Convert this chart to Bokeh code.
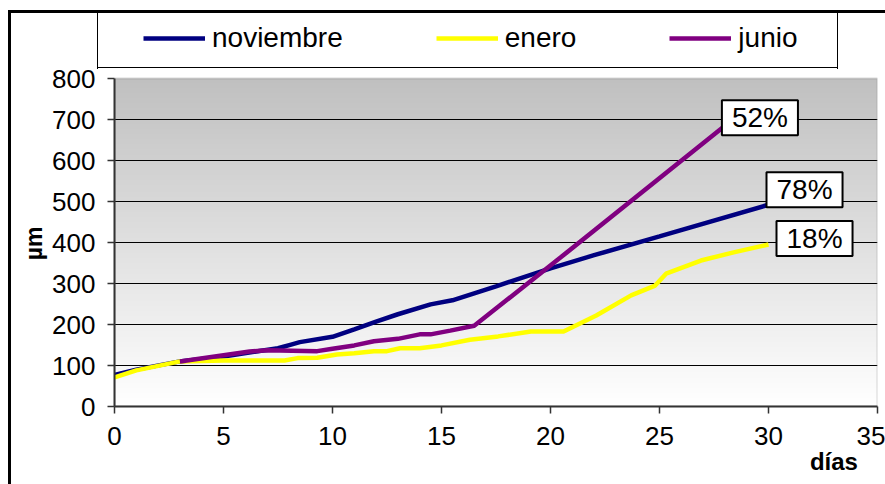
import numpy as np
from bokeh.plotting import figure
from bokeh.models import (Range1d, Legend, LegendItem, Label, FixedTicker, LinearAxis,
                          BoxAnnotation)
from bokeh.embed import file_html
from bokeh.resources import INLINE

# ---- data ----
dias_nov = [0, 1, 3, 5, 6.5, 7.5, 8.1, 8.5, 10, 11, 12, 13, 14.5, 15.5, 17.5, 20, 22, 25, 30]
um_nov = [77, 90, 110, 122, 134, 142, 151, 157, 170, 188, 207, 225, 249, 259, 293, 337, 369, 415, 492]

dias_ene = [0, 1, 3, 5, 7.8, 8.4, 9.3, 10.2, 11, 11.9, 12.5, 13.1, 14, 15, 16.3, 17.6, 19.1,
            20.6, 22.1, 23.7, 24.8, 25.3, 26.9, 28.4, 30]
um_ene = [71, 88, 110, 112, 112, 118, 119, 127, 130, 135, 135, 142, 142, 149, 163, 171, 183,
          183, 222, 271, 295, 324, 356, 376, 395]

dias_jun = [3, 6.2, 7, 9.3, 10, 11, 11.9, 13, 14, 14.5, 15.4, 16.5, 20.5, 28]
um_jun = [110, 134, 137, 135, 141, 149, 159, 165, 176, 176, 185, 197, 365, 685]

series_names = ["noviembre", "enero", "junio"]
end_labels = ["78%", "18%", "52%"]
x_ticks = [0, 5, 10, 15, 20, 25, 30, 35]
y_ticks = [0, 100, 200, 300, 400, 500, 600, 700, 800]
x_title = "días"
y_title = "µm"
x_title_pos = 33     # x value under which the x title sits
y_title_pos = 398    # y value beside which the y title sits

FONT = "Liberation Sans"
Y_MAX = 800
Y_TOP = Y_MAX * 395 / 328   # headroom above the plot area for the legend

p = figure(frame_width=763, frame_height=395, output_backend="svg", toolbar_location=None,
           x_range=Range1d(0, 35), y_range=Range1d(0, Y_TOP),
           min_border_left=114, min_border_right=8, min_border_top=11, min_border_bottom=78)
p.background_fill_alpha = 0
p.border_fill_alpha = 0
p.outline_line_color = None

# chart-area border (top & left) and legend frame, painted behind the transparent canvas
bg_layers = [
    "linear-gradient(#000,#000) 8px 10px / 877px 3px no-repeat",
    "linear-gradient(#000,#000) 8px 10px / 3px 474px no-repeat",
    "linear-gradient(#000,#000) 97px 10px / 1px 59px no-repeat",
    "linear-gradient(#000,#000) 837px 10px / 1px 59px no-repeat",
    "linear-gradient(#000,#000) 97px 67px / 741px 1px no-repeat",
    "#ffffff",
]
p.styles = {"background": ", ".join(bg_layers)}

# gradient plot-area background (grey at top -> white at bottom)
N = 256
t = np.linspace(0, 1, N)
g = np.round(255 - 63 * t).astype(np.uint8)
img = np.zeros((N, 1), dtype=np.uint32)
view = img.view(dtype=np.uint8).reshape((N, 1, 4))
view[:, 0, 0] = g
view[:, 0, 1] = g
view[:, 0, 2] = g
view[:, 0, 3] = 255
p.image_rgba(image=[img], x=0, y=0, dw=35, dh=Y_MAX, level="image")

# plot-area border
p.add_layout(BoxAnnotation(left=0, right=35, bottom=0, top=Y_MAX, fill_color=None,
                           line_color="#808080", line_width=2, level="underlay"))

# grid
p.xgrid.visible = False
p.ygrid.ticker = FixedTicker(ticks=y_ticks[1:-1])
p.ygrid.grid_line_color = "black"
p.ygrid.grid_line_width = 1

# main axes
xax = p.xaxis[0]
yax = p.yaxis[0]
xax.ticker = FixedTicker(ticks=x_ticks)
yax.ticker = FixedTicker(ticks=y_ticks)
yax.bounds = (0, Y_MAX)
for ax in (xax, yax):
    ax.axis_line_color = "#333333"
    ax.axis_line_width = 2
    ax.major_tick_out = 7
    ax.major_tick_in = 0
    ax.major_tick_line_color = "#333333"
    ax.major_tick_line_width = 1.5
    ax.minor_tick_line_color = None
    ax.major_label_text_font = FONT
    ax.major_label_text_font_size = "26px"
    ax.major_label_text_color = "black"
xax.major_label_standoff = 13
yax.major_label_standoff = 12

# axis titles (placed as single labels on bare axes)
ytitle_ax = LinearAxis(ticker=FixedTicker(ticks=[y_title_pos]),
                       major_label_overrides={y_title_pos: y_title},
                       axis_line_color=None, major_tick_line_color=None,
                       minor_tick_line_color=None, major_tick_out=0, major_tick_in=0,
                       major_label_standoff=2, major_label_orientation="vertical",
                       major_label_text_font=FONT, major_label_text_font_style="bold",
                       major_label_text_font_size="23px", major_label_text_color="black")
p.add_layout(ytitle_ax, "left")

xtitle_ax = LinearAxis(ticker=FixedTicker(ticks=[x_title_pos]),
                       major_label_overrides={x_title_pos: x_title},
                       axis_line_color=None, major_tick_line_color=None,
                       minor_tick_line_color=None, major_tick_out=0, major_tick_in=0,
                       major_label_standoff=0,
                       major_label_text_font=FONT, major_label_text_font_style="bold",
                       major_label_text_font_size="24px", major_label_text_color="black")
p.add_layout(xtitle_ax, "below")

# series
r_nov = p.line(dias_nov, um_nov, line_color="#000080", line_width=4.5)
r_ene = p.line(dias_ene, um_ene, line_color="#FFFF00", line_width=4.5)
r_jun = p.line(dias_jun, um_jun, line_color="#800080", line_width=4.5)
renderers = [r_nov, r_ene, r_jun]

legend = Legend(items=[LegendItem(label=n, renderers=[r]) for n, r in zip(series_names, renderers)],
                orientation="horizontal", location=(19, 342), padding=10, spacing=93,
                glyph_width=62, glyph_height=20, label_standoff=7,
                label_text_font=FONT, label_text_font_size="28px", label_text_color="black",
                border_line_alpha=0, background_fill_alpha=0, margin=0)
p.add_layout(legend)

# end-of-series percentage labels
offsets = [(-2, 15), (8, 6), (-3, 8)]
for xs, ys, txt, (dx, dy) in zip([dias_nov, dias_ene, dias_jun], [um_nov, um_ene, um_jun],
                                 end_labels, offsets):
    p.add_layout(Label(x=xs[-1], y=ys[-1], text=txt, x_offset=dx, y_offset=dy,
                       text_align="left", text_baseline="middle",
                       text_font=FONT, text_font_size="28px", text_color="black",
                       background_fill_color="white", border_line_color="black",
                       border_line_width=2,
                       padding=dict(left=10, right=10, top=2, bottom=2)))

open("out.html", "w").write(file_html(p, INLINE))
